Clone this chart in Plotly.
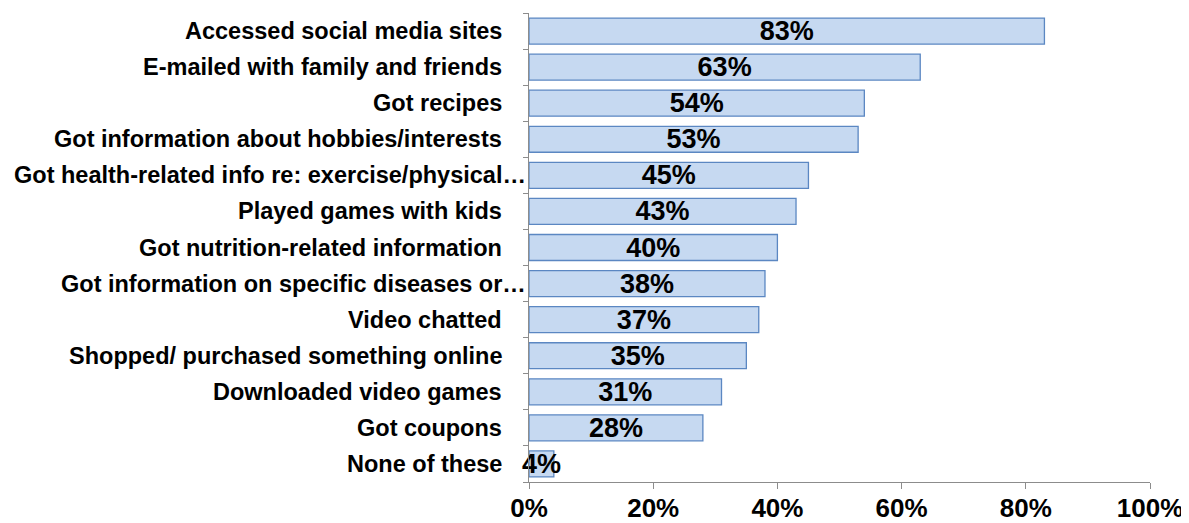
import plotly.graph_objects as go

activities = [
    "Accessed social media sites",
    "E-mailed with family and friends",
    "Got recipes",
    "Got information about hobbies/interests",
    "Got health-related info re: exercise/physical…",
    "Played games with kids",
    "Got nutrition-related information",
    "Got information on specific diseases or…",
    "Video chatted",
    "Shopped/ purchased something online",
    "Downloaded video games",
    "Got coupons",
    "None of these",
]
percents = [83, 63, 54, 53, 45, 43, 40, 38, 37, 35, 31, 28, 4]
x_ticks = [0, 20, 40, 60, 80, 100]

fill = '#c6d9f1'
edge = '#5b87c2'
axis_grey = '#8c8c8c'
font = 'Liberation Sans, Arial, sans-serif'

fig = go.Figure(go.Bar(
    x=percents,
    y=activities,
    orientation='h',
    marker=dict(color=fill, line=dict(color=edge, width=1.3)),
    text=[f"<b>{p}%</b>" for p in percents],
    textposition='inside',
    insidetextanchor='middle',
    constraintext='none',
    textangle=0,
    textfont=dict(family=font, size=27, color='black'),
    cliponaxis=False,
))

# category labels as annotations so the truncated ones can sit right against the axis
for name in activities:
    shift = -1 if name.endswith('…') else -25
    fig.add_annotation(
        x=0, xref='paper', y=name, yref='y',
        text=f"<b>{name}</b>", showarrow=False,
        xanchor='right', xshift=shift,
        font=dict(family=font, size=23.5, color='black'),
    )

# the page body has an 8px margin, so the figure is sized/offset to compensate
fig.update_layout(
    width=1181, height=515,
    margin=dict(l=521, r=39, t=5, b=41, autoexpand=False),
    paper_bgcolor='white', plot_bgcolor='white',
    bargap=0.28,
    showlegend=False,
    xaxis=dict(
        range=[0, 100], tickvals=x_ticks,
        ticktext=[f"<b>{t}%</b>" for t in x_ticks],
        showgrid=False, zeroline=False, automargin=False,
        showline=True, linecolor=axis_grey, linewidth=1,
        ticks='outside', ticklen=6, tickcolor=axis_grey,
        ticklabelstandoff=-3,
        tickfont=dict(family=font, size=26, color='black'),
    ),
    yaxis=dict(
        categoryorder='array', categoryarray=activities[::-1],
        showticklabels=False, showgrid=False, zeroline=False, automargin=False,
        showline=True, linecolor=axis_grey, linewidth=1,
        ticks='outside', ticklen=5, tickcolor=axis_grey,
        tickson='boundaries',
    ),
)

fig.write_html("out.html")
